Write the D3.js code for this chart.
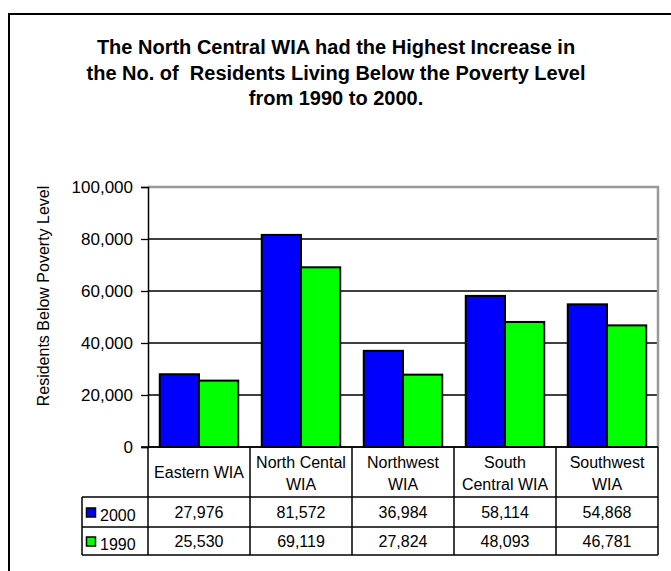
<!DOCTYPE html>
<html>
<head>
<meta charset="utf-8">
<script src="https://cdn.jsdelivr.net/npm/d3@7"></script>
<style>
  body { margin: 0; background: #fff; }
  svg { display: block; font-family: "Liberation Sans", Arial, sans-serif; }
</style>
</head>
<body>
<svg id="chart" width="671" height="571"></svg>
<script>
// chart data
var categories = ["Eastern WIA", "North Cental WIA", "Northwest WIA", "South Central WIA", "Southwest WIA"];
var categoryLines = [["Eastern WIA"], ["North Cental", "WIA"], ["Northwest", "WIA"], ["South", "Central WIA"], ["Southwest", "WIA"]];
var seriesNames = ["2000", "1990"];
var values2000 = [27976, 81572, 36984, 58114, 54868];
var values1990 = [25530, 69119, 27824, 48093, 46781];
var yTicks = [0, 20000, 40000, 60000, 80000, 100000];
var titleLines = [
  "The North Central WIA had the Highest Increase in",
  "the No. of  Residents Living Below the Poverty Level",
  "from 1990 to 2000."
];

var colors = { "2000": "#0000ff", "1990": "#00ff00" };
var series = { "2000": values2000, "1990": values1990 };

var svg = d3.select("#chart");

// outer frame
svg.append("rect")
  .attr("x", 9).attr("y", 14)
  .attr("width", 680).attr("height", 600)
  .style("fill", "none").style("stroke", "#000").style("stroke-width", 2);

// title
svg.append("text")
  .attr("x", 336).attr("y", 54)
  .attr("text-anchor", "middle")
  .style("font-weight", "bold").style("font-size", "20px")
  .style("white-space", "pre")
  .selectAll("tspan").data(titleLines).enter().append("tspan")
  .attr("x", 336)
  .attr("dy", function(d, i) { return i === 0 ? 0 : 25.5; })
  .text(function(d) { return d; });

var plot = { left: 148, right: 658, top: 187, bottom: 447 };

var y = d3.scaleLinear().domain([0, 100000]).range([plot.bottom, plot.top]);
var x0 = d3.scaleBand().domain(categories).range([plot.left, plot.right]);
var x1 = d3.scaleBand().domain(seriesNames).range([0, x0.bandwidth()]).paddingOuter(0.3);

// gridlines
svg.append("g").selectAll("line").data(yTicks.filter(function(d) { return d > 0 && d < 100000; }))
  .enter().append("line")
  .attr("x1", plot.left).attr("x2", plot.right)
  .attr("y1", function(d) { return y(d); }).attr("y2", function(d) { return y(d); })
  .style("stroke", "#000").style("stroke-width", 1.3);

// plot area top/right border (grey)
svg.append("path")
  .attr("d", "M" + plot.left + "," + plot.top + "H" + plot.right + "V" + plot.bottom)
  .style("fill", "none").style("stroke", "#999").style("stroke-width", 2.5);

// bars
var groups = svg.append("g").selectAll("g").data(categories).enter().append("g")
  .attr("transform", function(d) { return "translate(" + x0(d) + ",0)"; });

groups.selectAll("rect")
  .data(function(d, i) { return seriesNames.map(function(s) { return { s: s, v: series[s][i] }; }); })
  .enter().append("rect")
  .attr("x", function(d) { return x1(d.s); })
  .attr("width", x1.bandwidth())
  .attr("y", function(d) { return y(d.v); })
  .attr("height", function(d) { return y(0) - y(d.v); })
  .style("fill", function(d) { return colors[d.s]; })
  .style("stroke", "#000").style("stroke-width", 2);

// y axis
var yAxis = d3.axisLeft(y).tickValues(yTicks).tickSize(7).tickPadding(8)
  .tickFormat(d3.format(","));
var yg = svg.append("g").attr("transform", "translate(" + plot.left + ",0)").call(yAxis);
yg.select(".domain").style("stroke", "#000").style("stroke-width", 1.5);
yg.selectAll(".tick line").style("stroke", "#000").style("stroke-width", 1.3);
yg.selectAll(".tick text").style("font-size", "17px").style("font-family", "'Liberation Sans', Arial, sans-serif").style("fill", "#000");

// x baseline
svg.append("line")
  .attr("x1", plot.left - 7).attr("x2", plot.right)
  .attr("y1", plot.bottom).attr("y2", plot.bottom)
  .style("stroke", "#000").style("stroke-width", 1.5);

// y axis title
svg.append("text")
  .attr("transform", "translate(49,296) rotate(-90)")
  .attr("text-anchor", "middle")
  .style("font-size", "16px")
  .text("Residents Below Poverty Level");

// data table
var rowTop = plot.bottom, headBottom = 497, row1Bottom = 527, row2Bottom = 555, legLeft = 82;
var tbl = svg.append("g").style("stroke", "#000").style("stroke-width", 1.5);

// horizontal lines
tbl.append("line").attr("x1", plot.left).attr("x2", plot.right).attr("y1", rowTop).attr("y2", rowTop);
[headBottom, row1Bottom, row2Bottom].forEach(function(yy) {
  tbl.append("line").attr("x1", legLeft).attr("x2", plot.right).attr("y1", yy).attr("y2", yy);
});
// vertical lines
categories.forEach(function(c) {
  tbl.append("line").attr("x1", x0(c)).attr("x2", x0(c)).attr("y1", rowTop).attr("y2", row2Bottom);
});
tbl.append("line").attr("x1", plot.right).attr("x2", plot.right).attr("y1", rowTop).attr("y2", row2Bottom);
tbl.append("line").attr("x1", legLeft).attr("x2", legLeft).attr("y1", headBottom).attr("y2", row2Bottom);

// header labels
svg.append("g").selectAll("text").data(categories).enter().append("text")
  .attr("text-anchor", "middle")
  .style("font-size", "16px")
  .each(function(d, i) {
    var lines = categoryLines[i];
    var cx = x0(d) + x0.bandwidth() / 2;
    var startY = lines.length === 1 ? 478 : 468;
    d3.select(this).selectAll("tspan").data(lines).enter().append("tspan")
      .attr("x", cx)
      .attr("y", function(l, j) { return startY + j * 22; })
      .text(function(l) { return l; });
  });

// value rows + legend
var rowBase = { "2000": 518, "1990": 547 };
seriesNames.forEach(function(s) {
  svg.append("g").selectAll("text").data(series[s]).enter().append("text")
    .attr("x", function(d, i) { return x0(categories[i]) + x0.bandwidth() / 2; })
    .attr("y", rowBase[s])
    .attr("text-anchor", "middle")
    .style("font-size", "16px")
    .text(function(d) { return d3.format(",")(d); });

  svg.append("rect")
    .attr("x", 86.5).attr("y", rowBase[s] - 10)
    .attr("width", 9).attr("height", 9)
    .style("fill", colors[s]).style("stroke", "#000").style("stroke-width", 1.5);

  svg.append("text")
    .attr("x", 100).attr("y", rowBase[s] + 3)
    .style("font-size", "16px")
    .text(s);
});
</script>
</body>
</html>
